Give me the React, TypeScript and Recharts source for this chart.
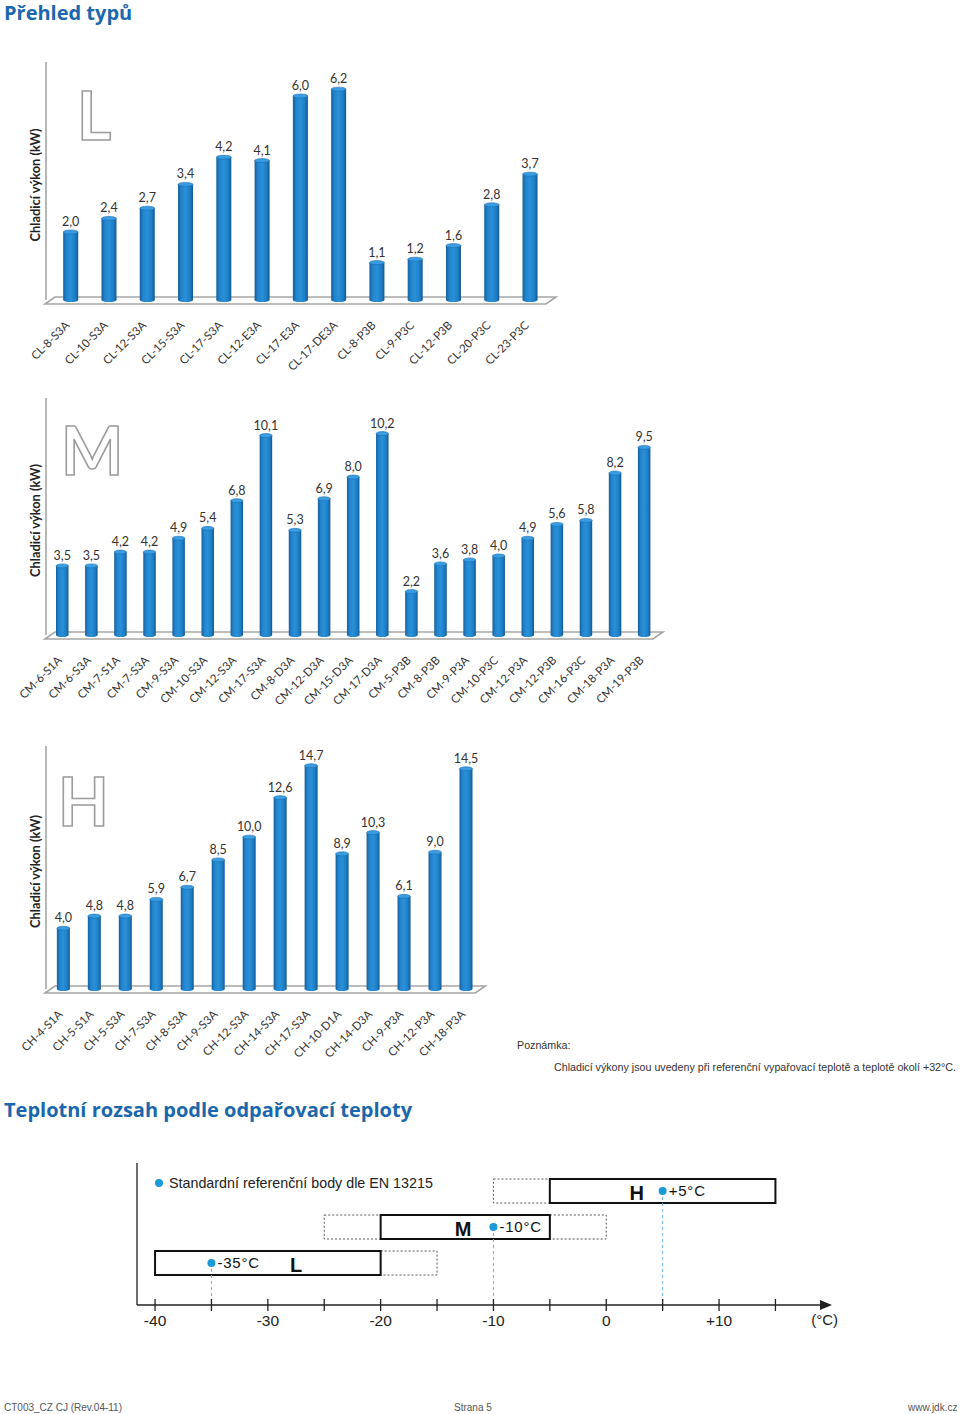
import React from 'react';
import { BarChart, Bar, XAxis, YAxis, LabelList, ComposedChart, Scatter } from 'recharts';

// --- capacity data (kW) ---
const lNames = ['CL-8-S3A', 'CL-10-S3A', 'CL-12-S3A', 'CL-15-S3A', 'CL-17-S3A', 'CL-12-E3A', 'CL-17-E3A', 'CL-17-DE3A', 'CL-8-P3B', 'CL-9-P3C', 'CL-12-P3B', 'CL-20-P3C', 'CL-23-P3C'];
const lValues = [2.0, 2.4, 2.7, 3.4, 4.2, 4.1, 6.0, 6.2, 1.1, 1.2, 1.6, 2.8, 3.7];
const lTicks = [0, 1, 2, 3, 4, 5, 6, 7];

const mNames = ['CM-6-S1A', 'CM-6-S3A', 'CM-7-S1A', 'CM-7-S3A', 'CM-9-S3A', 'CM-10-S3A', 'CM-12-S3A', 'CM-17-S3A', 'CM-8-D3A', 'CM-12-D3A', 'CM-15-D3A', 'CM-17-D3A', 'CM-5-P3B', 'CM-8-P3B', 'CM-9-P3A', 'CM-10-P3C', 'CM-12-P3A', 'CM-12-P3B', 'CM-16-P3C', 'CM-18-P3A', 'CM-19-P3B'];
const mValues = [3.5, 3.5, 4.2, 4.2, 4.9, 5.4, 6.8, 10.1, 5.3, 6.9, 8.0, 10.2, 2.2, 3.6, 3.8, 4.0, 4.9, 5.6, 5.8, 8.2, 9.5];
const mTicks = [0, 2, 4, 6, 8, 10, 12];

const hNames = ['CH-4-S1A', 'CH-5-S1A', 'CH-5-S3A', 'CH-7-S3A', 'CH-8-S3A', 'CH-9-S3A', 'CH-12-S3A', 'CH-14-S3A', 'CH-17-S3A', 'CH-10-D1A', 'CH-14-D3A', 'CH-9-P3A', 'CH-12-P3A', 'CH-18-P3A'];
const hValues = [4.0, 4.8, 4.8, 5.9, 6.7, 8.5, 10.0, 12.6, 14.7, 8.9, 10.3, 6.1, 9.0, 14.5];
const hTicks = [0, 2, 4, 6, 8, 10, 12, 14, 16];

// --- evaporating temperature ranges (°C) ---
const rangeRows = ['H', 'M', 'L'];
const solidFrom = [-5, -20, -40];
const solidTo = [15, -5, -20];
const extLeft = [[-10, -5], [-25, -20], null];
const extRight = [null, [-5, 0], [-20, -15]];
const refTemps = [5, -10, -35];
const letterTemps = [2.7, -12.7, -27.5];
const tempTicks = [-40, -35, -30, -25, -20, -15, -10, -5, 0, 5, 10, 15];

const FONT = 'Lato, "Open Sans", sans-serif';
const ARIAL = '"Liberation Sans", Arial, sans-serif';
const AXIS_GRAY = '#a6a6a6';

const fmt = (v: number) => v.toFixed(1).replace('.', ',');
const signed = (v: number) => (v > 0 ? `+${v}` : `${v}`);

// cylinder-like bar
const Cylinder = (props: any) => {
  const { x, y, width, height } = props;
  if (!height || height <= 0) return null;
  const cx = x + width / 2;
  const ry = 2;
  return (
    <g>
      <rect x={x} y={y} width={width} height={height} fill="url(#cylBody)" />
      <ellipse cx={cx} cy={y + height} rx={width / 2} ry={ry} fill="url(#cylBody)" />
      <ellipse cx={cx} cy={y} rx={width / 2} ry={ry} fill="#3a9de2" stroke="#1a6cae" strokeWidth={0.6} />
    </g>
  );
};

const ValueLabel = (props: any) => {
  const { x, y, width, value } = props;
  return (
    <text x={x + width / 2} y={y - 6} textAnchor="middle" fontSize={12.5} fill="#333" fontFamily={FONT}>
      {fmt(Number(value))}
    </text>
  );
};

const CategoryTick = (props: any) => {
  const { x, y, payload } = props;
  const ax = x;
  const ay = y + 26;
  return (
    <text x={ax} y={ay} transform={`rotate(-45 ${ax} ${ay})`} textAnchor="end" fontSize={11.5} fill="#333" fontFamily={FONT}>
      {payload.value}
    </text>
  );
};

interface CylChartProps {
  names: string[];
  values: number[];
  ticks: number[];
  top: number;
  width: number;
  height: number;
  plotTop: number;
  plotBottom: number;
  plotRight: number;
  padX: number;
  barSize: number;
  letter: string;
  letterX: number;
  letterBaseline: number;
}

function CylChart(p: CylChartProps) {
  const data = p.names.map((name, i) => ({ name, value: p.values[i] }));
  const mBottom = 20;
  const xHeight = p.height - mBottom - (p.plotBottom - p.top);
  const pb = p.plotBottom - p.top;
  const pr = p.plotRight;
  const labelY = (p.plotTop + p.plotBottom) / 2 + 4 - p.top;
  const yMax = p.ticks[p.ticks.length - 1];
  return (
    <div style={{ position: 'absolute', left: 0, top: p.top }}>
      <BarChart
        width={p.width}
        height={p.height}
        data={data}
        margin={{ top: p.plotTop - p.top, left: 46, right: p.width - pr, bottom: mBottom }}
        barSize={p.barSize}
      >
        <polygon
          points={`45,${pb + 4} 55,${pb - 3} ${pr + 2},${pb - 3} ${pr - 8},${pb + 4}`}
          fill="none"
          stroke={AXIS_GRAY}
          strokeWidth={1.6}
        />
        <text
          x={p.letterX}
          y={p.letterBaseline - p.top}
          fontSize={66}
          fontWeight={700}
          fontFamily={FONT}
          fill="#ffffff"
          stroke="#9c9c9c"
          strokeWidth={1.6}
        >
          {p.letter}
        </text>
        <text
          x={35}
          y={labelY}
          transform={`rotate(-90 35 ${labelY})`}
          textAnchor="middle"
          dominantBaseline="central"
          fontSize={12.8}
          fontWeight={700}
          fill="#222"
          fontFamily={FONT}
        >
          Chladicí výkon (kW)
        </text>
        <XAxis
          dataKey="name"
          interval={0}
          height={xHeight}
          tickLine={false}
          axisLine={false}
          tickSize={0}
          tickMargin={0}
          padding={{ left: p.padX, right: p.padX }}
          tick={<CategoryTick />}
        />
        <YAxis
          type="number"
          domain={[0, yMax]}
          ticks={p.ticks}
          width={1}
          mirror
          tick={false}
          tickSize={4}
          axisLine={{ stroke: AXIS_GRAY, strokeWidth: 1.6 }}
          tickLine={{ stroke: AXIS_GRAY, strokeWidth: 1.2 }}
        />
        <Bar dataKey="value" shape={<Cylinder />} isAnimationActive={false}>
          <LabelList dataKey="value" content={<ValueLabel />} />
        </Bar>
      </BarChart>
    </div>
  );
}

// --- temperature range chart ---
const T_TOP = 1140;
const T_PLOT_BOTTOM = 1305 - T_TOP;

const TempTick = (props: any) => {
  const { x, y, payload } = props;
  const v = payload.value as number;
  return (
    <g>
      <line x1={x} x2={x} y1={y - 6} y2={y + 6} stroke="#222" strokeWidth={1.3} />
      {v % 10 === 0 && (
        <text x={x} y={y + 21} textAnchor="middle" fontSize={15.5} fill="#222" fontFamily={ARIAL}>
          {signed(v)}
        </text>
      )}
    </g>
  );
};

const RefPoint = (props: any) => {
  const { cx, cy, payload } = props;
  return (
    <g>
      <line x1={cx} x2={cx} y1={cy} y2={T_PLOT_BOTTOM} stroke="#6ab4e0" strokeWidth={1} strokeDasharray="3 3" />
      <circle cx={cx} cy={cy} r={4} fill="#1b9ad8" />
      <text x={cx + 6} y={cy + 5} fontSize={15} fill="#111" fontFamily={ARIAL} letterSpacing={0.8}>
        {`${signed(payload.refTemp)}°C`}
      </text>
    </g>
  );
};

const RowLetter = (props: any) => {
  const { cx, cy, payload } = props;
  return (
    <text x={cx} y={cy + 9} textAnchor="middle" fontSize={20} fontWeight={700} fill="#111" fontFamily={ARIAL}>
      {payload.name}
    </text>
  );
};

function RangeChart() {
  const data = rangeRows.map((name, i) => ({
    name,
    solid: [solidFrom[i], solidTo[i]],
    extLeft: extLeft[i],
    extRight: extRight[i],
    refTemp: refTemps[i],
    letterAt: letterTemps[i],
  }));
  return (
    <div style={{ position: 'absolute', left: 0, top: T_TOP }}>
      <ComposedChart
        width={900}
        height={220}
        data={data}
        layout="vertical"
        margin={{ top: 23, left: 136, right: 72, bottom: 25 }}
        barSize={24}
        barGap={-24}
      >
        <circle cx={159} cy={1183 - T_TOP} r={4} fill="#1b9ad8" />
        <text x={169} y={1188 - T_TOP} fontSize={14.3} fill="#222" fontFamily={ARIAL}>
          Standardní referenční body dle EN 13215
        </text>
        <text x={838} y={1325 - T_TOP} textAnchor="end" fontSize={15} fill="#222" fontFamily={ARIAL}>
          (°C)
        </text>
        <XAxis
          type="number"
          domain={[-41.6, 19.66]}
          allowDataOverflow
          ticks={tempTicks}
          interval={0}
          height={30}
          tickSize={0}
          tickMargin={0}
          tickLine={false}
          tick={<TempTick />}
          axisLine={{ stroke: '#222', strokeWidth: 1.5, markerEnd: 'url(#axisArrow)' }}
        />
        <YAxis
          type="category"
          dataKey="name"
          width={1}
          tick={false}
          tickLine={false}
          padding={{ top: 10, bottom: 24 }}
          axisLine={{ stroke: '#222', strokeWidth: 1.3 }}
        />
        <Bar dataKey="extLeft" fill="#fff" stroke="#555" strokeWidth={1} strokeDasharray="2 2" isAnimationActive={false} />
        <Bar dataKey="extRight" fill="#fff" stroke="#555" strokeWidth={1} strokeDasharray="2 2" isAnimationActive={false} />
        <Bar dataKey="solid" fill="#fff" stroke="#111" strokeWidth={2} isAnimationActive={false} />
        <Scatter dataKey="refTemp" shape={<RefPoint />} isAnimationActive={false} />
        <Scatter dataKey="letterAt" shape={<RowLetter />} isAnimationActive={false} />
      </ComposedChart>
    </div>
  );
}

const titleStyle: React.CSSProperties = {
  position: 'absolute',
  left: 4,
  fontFamily: '"Open Sans", Lato, sans-serif',
  fontWeight: 700,
  fontSize: 20,
  lineHeight: '20px',
  color: '#1a67ad',
  whiteSpace: 'nowrap',
};

const smallText: React.CSSProperties = {
  position: 'absolute',
  fontFamily: ARIAL,
  fontSize: 10.7,
  lineHeight: '12px',
  color: '#333',
  whiteSpace: 'nowrap',
};

const footText: React.CSSProperties = {
  position: 'absolute',
  top: 1402,
  fontFamily: ARIAL,
  fontSize: 10,
  lineHeight: '12px',
  color: '#555',
  whiteSpace: 'nowrap',
};

export default function App() {
  return (
    <div style={{ position: 'absolute', left: 0, top: 0, width: 960, height: 1414, background: '#fff', overflow: 'hidden' }}>
      <svg width={0} height={0} style={{ position: 'absolute' }}>
        <defs>
          <linearGradient id="cylBody" x1="0" y1="0" x2="1" y2="0">
            <stop offset="0%" stopColor="#165f9e" />
            <stop offset="22%" stopColor="#2284cc" />
            <stop offset="50%" stopColor="#2a90d8" />
            <stop offset="80%" stopColor="#1d7ec4" />
            <stop offset="100%" stopColor="#135893" />
          </linearGradient>
          <marker id="axisArrow" markerUnits="userSpaceOnUse" markerWidth={12} markerHeight={10} refX={8} refY={5} orient="auto">
            <path d="M0,0 L12,5 L0,10 z" fill="#222" />
          </marker>
        </defs>
      </svg>

      <div style={{ ...titleStyle, top: 3 }}>Přehled typů</div>

      <CylChart
        names={lNames}
        values={lValues}
        ticks={lTicks}
        top={40}
        width={564}
        height={340}
        plotTop={62}
        plotBottom={300}
        plotRight={554}
        padX={5.2}
        barSize={15}
        letter="L"
        letterX={77}
        letterBaseline={140}
      />
      <CylChart
        names={mNames}
        values={mValues}
        ticks={mTicks}
        top={380}
        width={671}
        height={340}
        plotTop={398}
        plotBottom={635}
        plotRight={661}
        padX={2}
        barSize={12.5}
        letter="M"
        letterX={61}
        letterBaseline={475}
      />
      <CylChart
        names={hNames}
        values={hValues}
        ticks={hTicks}
        top={725}
        width={494}
        height={340}
        plotTop={746}
        plotBottom={989}
        plotRight={483.3}
        padX={1.85}
        barSize={13}
        letter="H"
        letterX={58}
        letterBaseline={826}
      />

      <div style={{ ...smallText, left: 517, top: 1039 }}>Poznámka:</div>
      <div style={{ ...smallText, left: 554, top: 1061 }}>
        Chladicí výkony jsou uvedeny při referenční vypařovací teplotě a teplotě okolí +32°C.
      </div>

      <div style={{ ...titleStyle, top: 1100 }}>Teplotní rozsah podle odpařovací teploty</div>

      <RangeChart />

      <div style={{ ...footText, left: 4 }}>CT003_CZ CJ (Rev.04-11)</div>
      <div style={{ ...footText, left: 454 }}>Strana 5</div>
      <div style={{ ...footText, left: 908 }}>www.jdk.cz</div>
    </div>
  );
}
